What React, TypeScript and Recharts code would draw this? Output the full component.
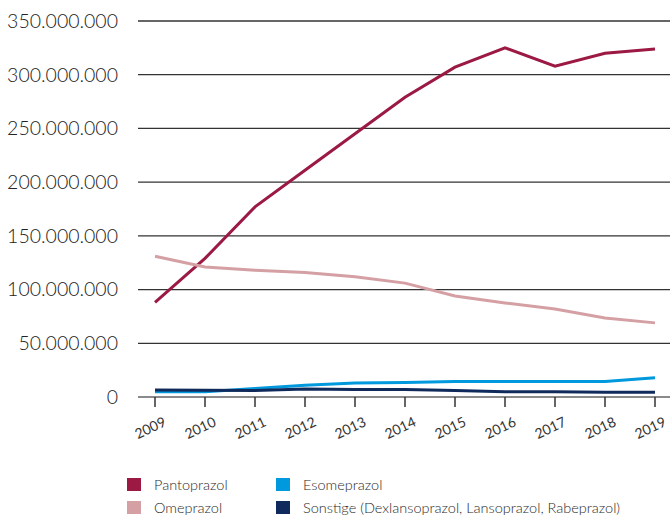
import React from "react";
import { LineChart, Line, XAxis, YAxis, CartesianGrid } from "recharts";

const years = ["2009", "2010", "2011", "2012", "2013", "2014", "2015", "2016", "2017", "2018", "2019"];
const pantoprazol = [88e6, 129e6, 177e6, 211e6, 245e6, 279e6, 307e6, 325e6, 308e6, 320e6, 324e6];
const omeprazol = [131e6, 121e6, 118e6, 116e6, 112e6, 106e6, 94e6, 87.5e6, 82e6, 73.5e6, 69e6];
const esomeprazol = [5e6, 5e6, 8e6, 11e6, 13e6, 13.5e6, 14.5e6, 14.5e6, 14.5e6, 14.5e6, 18e6];
const sonstige = [6.5e6, 6.3e6, 6e6, 7.4e6, 7e6, 7e6, 6e6, 5e6, 5e6, 4.5e6, 4.5e6];
const yTicks = [0, 50e6, 100e6, 150e6, 200e6, 250e6, 300e6, 350e6];

const series = [
    { key: "pantoprazol", name: "Pantoprazol", color: "#9b1942", values: pantoprazol },
    { key: "omeprazol", name: "Omeprazol", color: "#d4a0a4", values: omeprazol },
    { key: "esomeprazol", name: "Esomeprazol", color: "#0099dd", values: esomeprazol },
    { key: "sonstige", name: "Sonstige (Dexlansoprazol, Lansoprazol, Rabeprazol)", color: "#102a5c", values: sonstige },
];

const data = years.map((year, i) => {
    const row: any = { year };
    series.forEach((s) => (row[s.key] = s.values[i]));
    return row;
});

const font = "Lato, 'Open Sans', sans-serif";

const formatTick = (v: number) => (v === 0 ? "0" : v.toLocaleString("de-DE"));

const YearTick = ({ x, y, payload }: any) => (
    <g transform={`translate(${x},${y})`}>
        <text
            x={4}
            y={20}
            textAnchor="end"
            transform="rotate(-25)"
            fontSize={14}
            fontFamily={font}
            fill="#333"
        >
            {payload.value}
        </text>
    </g>
);

// legend order: left column Pantoprazol / Omeprazol, right column Esomeprazol / Sonstige
const legendPos = [
    { left: 127, top: 477 },
    { left: 127, top: 500 },
    { left: 276, top: 477 },
    { left: 276, top: 500 },
];

export default function App() {
    return (
        <div style={{ position: "relative", width: 670, height: 516, background: "#fff", overflow: "hidden" }}>
            <style>{"body{margin:0}"}</style>
            <LineChart width={670} height={450} data={data} margin={{ top: 21, right: 0, left: 0, bottom: 0 }}>
                <CartesianGrid vertical={false} stroke="#333" strokeWidth={1.3} />
                <XAxis
                    dataKey="year"
                    height={53}
                    padding={{ left: 17, right: 15 }}
                    axisLine={{ stroke: "#8a8a8a", strokeWidth: 2 }}
                    tickLine={{ stroke: "#333", strokeWidth: 1.5 }}
                    tickSize={10}
                    interval={0}
                    tick={<YearTick />}
                />
                <YAxis
                    width={138}
                    domain={[0, 350e6]}
                    ticks={yTicks}
                    tickFormatter={formatTick}
                    axisLine={false}
                    tickLine={false}
                    tickSize={0}
                    tickMargin={20}
                    tick={{ fontSize: 19.5, fontFamily: font, fontWeight: 300, fill: "#222" }}
                />
                {series.map((s) => (
                    <Line
                        key={s.key}
                        type="linear"
                        dataKey={s.key}
                        name={s.name}
                        stroke={s.color}
                        strokeWidth={3}
                        dot={false}
                        isAnimationActive={false}
                    />
                ))}
            </LineChart>
            {series.map((s, i) => (
                <div
                    key={s.key}
                    style={{
                        position: "absolute",
                        left: legendPos[i].left,
                        top: legendPos[i].top,
                        height: 15,
                        lineHeight: "15px",
                        display: "flex",
                        alignItems: "center",
                        fontFamily: font,
                        fontWeight: 300,
                        fontSize: 14.5,
                        color: "#2a2a2a",
                        whiteSpace: "nowrap",
                    }}
                >
                    <span style={{ width: 14, height: 13, background: s.color, marginRight: 13, display: "inline-block" }} />
                    {s.name}
                </div>
            ))}
        </div>
    );
}
